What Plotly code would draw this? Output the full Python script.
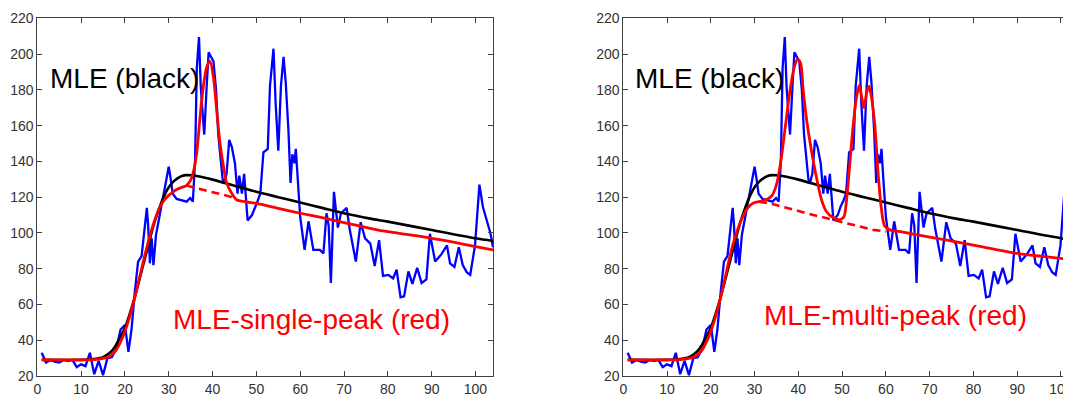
import plotly.graph_objects as go

# ---- observed data (blue), shared by both panels ----
obs_x = [1, 2, 3, 4, 5, 6, 7, 8, 9, 10, 11, 12, 13, 14, 15, 16, 17, 18, 19, 20,
         20.8, 21.5, 22.3, 23, 23.8, 24.4, 25, 25.3, 25.7, 26.1, 26.5, 27.1, 27.9, 28.8, 29.5, 30,
         30.4, 30.9, 31.8, 33, 34.1, 34.9, 35.5, 36, 36.4, 36.9, 37.3, 37.7, 38.1, 38.7, 39.1,
         40.2, 40.8, 41.3, 41.9, 42.3, 42.6, 43.2, 43.8, 44.4, 45.1, 45.7, 46.1, 46.7, 47.2,
         47.6, 48, 49, 49.7, 50.3, 50.9, 51.6, 52.6, 53.1, 53.9, 54.4, 55, 55.6, 56.2, 56.7,
         57.3, 57.8, 58.2, 58.7, 59, 59.4, 60, 61, 61.9, 63, 64.5, 65.3, 66, 66.5, 67, 67.7,
         68.6, 69.3, 70.6, 71.3, 72.7, 73.8, 74.8, 76, 77, 78, 78.9, 80.1, 81.2, 82, 82.9,
         83.7, 84.7, 85.6, 86.7, 87.7, 88.8, 89.6, 90.8, 92.2, 93.5, 94.2, 95.2, 96.2, 97.1,
         98, 98.8, 99.9, 100.9, 101.7, 102.6, 103.4, 104]
obs_y = [33, 27.5, 29, 28, 27.5, 29, 28.5, 29, 25, 26.5, 25.5, 33, 21, 28.5, 20.5, 30, 30.5, 35, 46, 48.5,
         33.5, 46, 68, 84, 87, 100, 114, 104, 83, 97, 82, 99, 110, 120, 131, 137,
         131, 122, 119, 118, 117.5, 119.5, 117.5, 140, 192, 209.5, 182, 168, 155, 184, 201,
         196, 180, 155, 140, 130, 127.5, 133, 152, 148, 139, 122, 132, 122, 133,
         118, 107, 110, 115, 118, 122, 145, 147, 182, 203, 172, 146, 182, 198.5, 184,
         158, 128, 144, 139, 147, 131, 109, 90.5, 106.5, 90.5, 90.5, 88.5, 111, 104, 72, 123,
         103, 111, 114, 102, 84, 106, 97, 94, 81.5, 96, 76, 76.5, 74.5, 79.5, 64,
         64.5, 78.5, 71.5, 80.5, 72, 74, 99.5, 84, 88, 93, 83, 81, 92, 82,
         78, 76.5, 93, 127, 114.5, 107, 100, 92]

# ---- MLE fit (black), shared ----
mle_x = [1, 10, 13, 15, 16, 17, 18, 19, 20, 21, 22, 23, 24, 25, 26, 27, 28, 29, 30, 31, 32, 33,
         34, 35, 37, 40, 45, 50, 55, 60, 65, 70, 76, 80, 90, 100, 104]
mle_y = [29, 29, 29.5, 30.5, 32, 34, 37.5, 42, 47, 54, 62, 71, 80.5, 90, 99.5, 108, 115, 121,
         125.5, 128.5, 130.5, 131.8, 132.3, 132.2, 131.5, 129.8, 126.4, 123, 120, 117, 114,
         111, 108, 106.3, 101.6, 97, 95.5]

# ---- MLE single-peak (red, left) ----
single_x = [1, 10, 13, 15, 16, 17, 18, 19, 20, 21, 22, 23, 24, 25, 26, 27, 28, 29, 30, 31, 32, 33,
            34, 35, 35.8, 36.4, 37.15, 37.9, 38.7, 39.4, 40.2, 41, 41.7, 42.5, 43.2, 44.4, 45.5,
            47, 50, 55, 60, 65, 70, 77, 80, 85, 90, 95, 100, 104]
single_y = [29, 29, 29.2, 29.8, 30.5, 32, 34.5, 39, 45, 52.5, 61.5, 71.5, 82, 92, 101, 108.5,
            114.5, 118.5, 121, 123, 124.5, 125.5, 126.5, 129.5, 136, 145, 165, 182, 193, 196,
            187, 167, 150, 137, 128, 122, 118.5, 117.6, 116.5, 113.7, 111, 108.5, 105.7, 102,
            100.7, 98.9, 97, 94.8, 92.4, 90.5]
single_base_x = [34, 36.4, 40.2, 44, 46]
single_base_y = [126.5, 125, 123, 120.3, 118]

# ---- MLE multi-peak (red, right) ----
multi_x = [1, 10, 13, 15, 16, 17, 18, 19, 20, 21, 22, 23, 24, 25, 26, 27, 28, 29, 30, 31, 32, 33,
           34, 35, 36, 37, 38, 39, 39.8, 40.5, 41.1, 41.9, 43, 44.1, 45.3, 46.4, 48, 49.5, 50.4,
           51, 51.7, 52.5, 53.3, 53.9, 54.4, 55, 55.6, 56.1, 56.7, 57.5, 58.2, 59, 59.7, 60.9,
           63, 70, 80, 90, 100, 104]
multi_y = [29, 29, 29.2, 29.8, 30.5, 32, 34.5, 39, 45, 52.5, 61.5, 72, 83, 93, 101, 107.5,
           112.5, 115.5, 117, 117.5, 118, 119, 121, 127, 140, 159, 178, 192, 197, 195, 180,
           163, 146, 131.5, 118.5, 112, 108.5, 107.5, 109, 118, 137, 159.5, 176, 182.5, 177,
           170, 178.5, 182, 176, 159.5, 134, 113, 104, 101.7, 100.8, 97.7, 93.2, 88.6, 85.8, 84.5]
multi_base_x = [31, 34.3, 41.9, 49.5, 57.1, 60.1]
multi_base_y = [117.5, 116, 111, 106.4, 101.7, 100.8]

x_ticks = list(range(0, 101, 10))
y_ticks = list(range(20, 221, 20))

BLUE, RED, BLACK = "#0000FF", "#FF0000", "#000000"
fig = go.Figure()

for xa, ya, rx, ry, bx, by in [("x", "y", single_x, single_y, single_base_x, single_base_y),
                               ("x2", "y2", multi_x, multi_y, multi_base_x, multi_base_y)]:
    fig.add_trace(go.Scatter(x=obs_x, y=obs_y, mode="lines", xaxis=xa, yaxis=ya,
                             line=dict(color=BLUE, width=2.3), showlegend=False))
    fig.add_trace(go.Scatter(x=mle_x, y=mle_y, mode="lines", xaxis=xa, yaxis=ya,
                             line=dict(color=BLACK, width=2.6, shape="spline", smoothing=0.8),
                             showlegend=False))
    fig.add_trace(go.Scatter(x=bx, y=by, mode="lines", xaxis=xa, yaxis=ya,
                             line=dict(color=RED, width=2.6, dash="8px,5px"),
                             showlegend=False))
    fig.add_trace(go.Scatter(x=rx, y=ry, mode="lines", xaxis=xa, yaxis=ya,
                             line=dict(color=RED, width=2.8, shape="spline", smoothing=0.8),
                             showlegend=False))

# page is offset by the browser's default 8px body margin, so the figure is 8px smaller
OFF = 8
W, H = 1071 - OFF, 394 - OFF
AX = "#404040"
tickfont = dict(family="Liberation Sans, Arial", size=14, color="#333333")
common_x = dict(tickvals=x_ticks, ticks="inside", ticklen=5, tickcolor=AX, showline=True,
                linecolor=AX, linewidth=1, showgrid=False, zeroline=False, tickfont=tickfont,
                automargin=False, ticklabelstandoff=0, ticklabeloverflow="allow")
common_y = dict(tickvals=y_ticks, ticks="inside", ticklen=5, tickcolor=AX, showline=True,
                linecolor=AX, linewidth=1, showgrid=False, zeroline=False, tickfont=tickfont,
                range=[20, 220], automargin=False, ticklabelstandoff=0)

ydom = [(H - (376 - OFF)) / H, (H - (18.3 - OFF)) / H]
fig.update_layout(
    template="none",
    width=W, height=H, margin=dict(l=0, r=0, t=0, b=0, pad=0),
    paper_bgcolor="white", plot_bgcolor="white",
    xaxis=dict(common_x, domain=[(37.3 - OFF) / W, (493 - OFF) / W], range=[0, 104],
               mirror="ticks", anchor="y"),
    yaxis=dict(common_y, domain=ydom, mirror="ticks", anchor="x"),
    xaxis2=dict(common_x, domain=[(623.3 - OFF) / W, 1.0], range=[0, 102.3],
                mirror="ticks", anchor="y2"),
    yaxis2=dict(common_y, domain=ydom, mirror=False, anchor="x2"),
)

afont = dict(family="Liberation Sans, Arial", size=28)
anns = [
    ("x", "y", 2.4, 186.6, "MLE (black)", BLACK),
    ("x", "y", 30.5, 51.5, "MLE-single-peak (red)", RED),
    ("x2", "y2", 2.2, 186.6, "MLE (black)", BLACK),
    ("x2", "y2", 31.8, 53.7, "MLE-multi-peak (red)", RED),
]
for xr, yr, ax_, ay_, txt, col in anns:
    fig.add_annotation(xref=xr, yref=yr, x=ax_, y=ay_, text=txt, showarrow=False,
                       xanchor="left", yanchor="middle", font=dict(afont, color=col))

fig.write_html("out.html")
